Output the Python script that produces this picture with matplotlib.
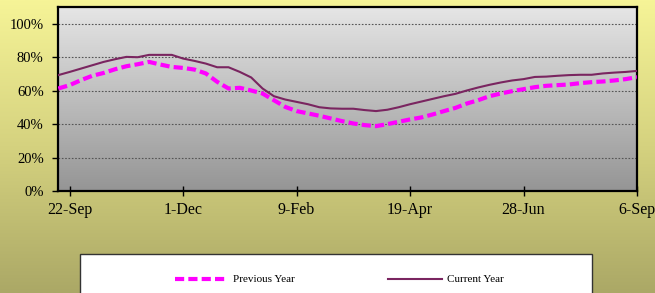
import numpy as np
import matplotlib
matplotlib.use("Agg")
import matplotlib.pyplot as plt
from matplotlib.patches import Rectangle
from matplotlib.colors import LinearSegmentedColormap

# weekly data, starting 15-Sep, ending 6-Sep
previous_year = [61.3, 63.3, 66.3, 68.9, 70.6, 72.8, 74.6, 75.8, 77.2, 75.6,
                 74.2, 73.6, 72.6, 70.3, 65.3, 61.3, 61.7, 60.1, 58.3, 54.3,
                 50.3, 47.8, 46.4, 45.0, 43.4, 41.8, 40.4, 39.4, 38.8, 40.0,
                 41.4, 42.8, 44.0, 45.8, 47.8, 49.7, 52.3, 54.3, 56.7, 58.3,
                 59.7, 60.9, 62.1, 62.9, 63.3, 63.7, 64.5, 65.1, 65.5, 66.1,
                 66.9, 68.1]
current_year = [69.3, 71.2, 73.2, 75.2, 77.2, 78.8, 80.2, 80.0, 81.4, 81.4,
                81.4, 79.2, 77.8, 76.2, 74.0, 74.0, 71.2, 67.9, 61.3, 56.7,
                54.7, 53.3, 51.9, 50.1, 49.4, 49.2, 49.2, 48.4, 47.8, 48.6,
                50.1, 51.9, 53.5, 55.1, 56.7, 58.1, 60.1, 61.9, 63.5, 64.9,
                66.1, 66.9, 68.2, 68.4, 68.9, 69.3, 69.5, 69.5, 70.3, 70.8,
                71.2, 71.8]
tick_weeks = [1, 11, 21, 31, 41, 51]
tick_labels = ["22-Sep", "1-Dec", "9-Feb", "19-Apr", "28-Jun", "6-Sep"]
y_ticks = [0, 20, 40, 60, 80, 100]
y_labels = ["0%", "20%", "40%", "60%", "80%", "100%"]

plt.rcParams['font.family'] = ['Liberation Serif', 'DejaVu Serif']

fig = plt.figure(figsize=(6.55, 2.93), dpi=100)

# figure background gradient
bg = fig.add_axes([0, 0, 1, 1], zorder=-10)
bg.set_axis_off()
cmap_bg = LinearSegmentedColormap.from_list("bg", ["#F6F497", "#D5D27F", "#ABA866"])
grad = np.linspace(0, 1, 256).reshape(-1, 1)
bg.imshow(grad, aspect='auto', cmap=cmap_bg, extent=[0, 1, 0, 1], transform=bg.transAxes)
bg.set_xlim(0, 1); bg.set_ylim(0, 1)

ax = fig.add_axes([0.089, 0.348, 0.8835, 0.628])
x = np.arange(len(previous_year))
ax.set_xlim(0, len(previous_year) - 1)
ax.set_ylim(0, 110)

cmap_ax = LinearSegmentedColormap.from_list("ax", ["#E6E6E6", "#959595"])
ax.imshow(grad, aspect='auto', cmap=cmap_ax, extent=[0, 1, 0, 1],
          transform=ax.transAxes, zorder=0)

for yv in y_ticks[1:]:
    ax.axhline(yv, color='#555555', lw=0.8, ls=(0, (1.5, 1.5)), zorder=1)

ax.plot(x, previous_year, color='#FF00FF', lw=3.0, dashes=(2.2, 1.0),
        label='Previous Year', zorder=3)
ax.plot(x, current_year, color='#7A2560', lw=1.5, label='Current Year', zorder=4)

ax.set_xticks(tick_weeks)
ax.set_xticklabels(tick_labels, fontsize=11.5)
ax.set_yticks(y_ticks)
ax.set_yticklabels(y_labels, fontsize=10.5)
ax.tick_params(axis='x', direction='inout', length=7, width=1, pad=4.5)
ax.tick_params(axis='y', direction='out', length=4.5, width=1, pad=6)
for s in ax.spines.values():
    s.set_color('black')
    s.set_linewidth(1.6)

# legend box (clipped at the bottom of the figure)
fig.patches.append(Rectangle((80 / 655, -0.05), (592 - 80) / 655, (293 - 254) / 293 + 0.05,
                             transform=fig.transFigure, facecolor='white',
                             edgecolor='#333333', lw=1.0, zorder=5))
handles, labels = ax.get_legend_handles_labels()
leg = fig.legend(handles, labels, loc='center left', bbox_to_anchor=(175 / 655, 13.5 / 293),
                 ncol=2, frameon=False, fontsize=8, handlelength=4.8, borderpad=0,
                 borderaxespad=0, columnspacing=8.4, handletextpad=0.45)
leg.set_zorder(6)

fig.savefig("out.png", dpi=100)
